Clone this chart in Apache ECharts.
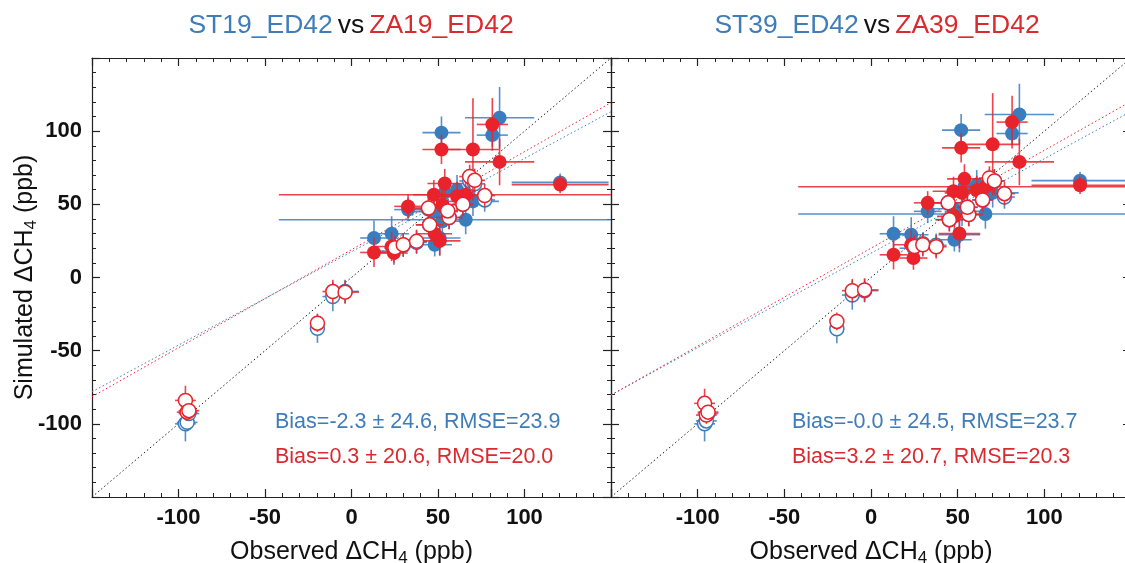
<!DOCTYPE html>
<html><head><meta charset="utf-8">
<script src="https://cdn.jsdelivr.net/npm/echarts@6/dist/echarts.min.js"></script>
<style>html,body{margin:0;padding:0;background:#fff}#c{width:1125px;height:563px}</style>
</head><body><div id="c"></div>
<script>
// ---- data ----
const axisRange = [-150, 150];
const tickLabels = [-100, -50, 0, 50, 100];
const panelTitles = [["ST19_ED42", "ZA19_ED42"], ["ST39_ED42", "ZA39_ED42"]];
const statsText = [
  ["Bias=-2.3 \u00b1 24.6, RMSE=23.9", "Bias=0.3 \u00b1 20.6, RMSE=20.0"],
  ["Bias=-0.0 \u00b1 24.5, RMSE=23.7", "Bias=3.2 \u00b1 20.7, RMSE=20.3"]
];
const obsX = [52.0, 70.2, 81.4, 85.6, 120.6, 53.9, 47.6, 66.0, 52.5, 32.7, 61.0, 48.1, 51.0, 13.0, 23.2, 24.5,
              -96, -95, -94, -19.7, -10.8, -3.7, 25.1, 29.9, 37.6, 45.2, 44.5, 56.4, 55.6, 64.4, 68.3, 71.2, 77.0];
const obsXErr = [11, 15, 9, 20, 28, 10, 12, 108, 10, 8, 10, 10, 12, 8, 10, 8,
                 6, 6, 6, 3, 6, 8, 6, 8, 6, 8, 8, 8, 6, 6, 6, 6, 6];
const isFilled = [1,1,1,1,1,1,1,1,1,1,1,1,1,1,1,1, 0,0,0,0,0,0,0,0,0,0,0,0,0,0,0,0,0];
const st19Y = [99, 52, 97.3, 109.2, 65, 58, 45, 39.5, 38.4, 46.4, 60, 22.4, 27, 27, 29.9, 18,
               -100, -99, -93, -34.7, -13, -9.5, 20, 22, 24, 36, 47, 41, 45, 50, 66, 64, 53];
const za19Y = [87.5, 87.5, 104.6, 79, 63.5, 64.2, 56.6, 56.6, 49.8, 48.6, 55.5, 29.9, 25, 17.1, 21.2, 16.7,
               -84, -92, -91, -31.2, -9.6, -10, 20.3, 22.4, 24.7, 36, 47.5, 41, 45.5, 50, 69, 66.4, 56];
const st39Y = [100.7, 57.8, 98.4, 111.4, 66.2, 62, 47, 43.4, 45.2, 45.2, 63.5, 25.8, 29.2, 29.9, 29.2, 20,
               -100, -98, -93, -35, -12, -9, 22, 23, 22, 39.5, 51, 43, 48, 53, 66, 66, 55];
const za39Y = [88.6, 91, 106.2, 79, 63, 67.4, 58.9, 62, 57.8, 51, 59.6, 41.8, 30, 15.5, 22.4, 13.3,
               -86, -94, -92, -30, -9, -8.5, 21.2, 22.4, 21, 39.5, 51, 43, 48, 53, 68, 66, 57.3];
const stYErr = [11, 10, 8, 21, 6, 10, 10, 10, 10, 8, 10, 8, 12, 12, 12, 8,
                12, 6, 6, 10, 10, 8, 8, 8, 8, 8, 8, 8, 8, 8, 8, 8, 8];
const zaYErr = [10, 35, 18, 16, 6, 10, 10, 10, 10, 8, 10, 8, 10, 10, 10, 8,
                10, 6, 6, 6, 8, 8, 8, 8, 8, 8, 8, 8, 8, 8, 8, 8, 8];
// linear fits [slope, intercept]
const fitST19 = [0.638, 17.6];
const fitZA19 = [0.670, 19.0];
const fitST39 = [0.646, 16.6];
const fitZA39 = [0.669, 20.0];

// ---- styles ----
const BLUE = '#3a7dbf', RED = '#e8232b';
const BLUE_T = '#3f7cb8', RED_T = '#d92a2f';
const FONT = 'Liberation Sans, Arial, sans-serif';

const chart = echarts.init(document.getElementById('c'));
const panels = [
  {models: [[st19Y, stYErr, fitST19, BLUE], [za19Y, zaYErr, fitZA19, RED]]},
  {models: [[st39Y, stYErr, fitST39, BLUE], [za39Y, zaYErr, fitZA39, RED]]}
];
const grids = [
  {left: 92, top: 58, width: 519, height: 439, outerBoundsMode: 'none', containLabel: false},
  {left: 611, top: 58, width: 520, height: 439, outerBoundsMode: 'none', containLabel: false}
];
const clampV = v => Math.max(axisRange[0], Math.min(axisRange[1], v));

function mainAxis(gi, pos, showLabels, nameText, nameGap) {
  return {
    type: 'value', gridIndex: gi, position: pos, min: axisRange[0], max: axisRange[1], interval: 50,
    splitLine: {show: false},
    axisLine: {show: true, onZero: false, lineStyle: {color: '#222', width: 1.2}},
    axisTick: {show: true, inside: true, length: 8, lineStyle: {color: '#222', width: 1.2}},
    minorTick: {show: true, splitNumber: 5, length: 4, lineStyle: {color: '#222', width: 1}},
    axisLabel: {show: showLabels, fontFamily: FONT, fontWeight: 'bold', fontSize: 22, color: '#111', margin: 10,
      formatter: v => tickLabels.includes(v) ? String(v) : ''},
    name: nameText || '', nameLocation: 'middle', nameGap: nameGap || 0, nameMoveOverlap: false,
    nameTextStyle: {fontFamily: FONT, fontSize: 25, color: '#111',
      rich: {s: {fontFamily: FONT, fontSize: 17, color: '#111', padding: [13, 0, 0, 0]}}}
  };
}
const xAxes = [], yAxes = [];
const xName = 'Observed \u0394CH{s|4} (ppb)';
const yName = 'Simulated \u0394CH{s|4} (ppb)';
[0, 1].forEach(gi => {
  xAxes.push(mainAxis(gi, 'bottom', true, xName, 40));
  xAxes.push(mainAxis(gi, 'top', false));
  yAxes.push(mainAxis(gi, 'left', gi === 0, gi === 0 ? yName : '', 52));
  yAxes.push(mainAxis(gi, 'right', false));
});

const series = [];
panels.forEach((p, gi) => {
  const xi = gi * 2, yi = gi * 2;
  // 1:1 line
  series.push({type: 'line', xAxisIndex: xi, yAxisIndex: yi, silent: true, symbol: 'none', z: 1,
    data: [[axisRange[0], axisRange[0]], [axisRange[1], axisRange[1]]],
    lineStyle: {color: '#222', width: 1, type: [1.5, 2.5]}});
  // fit lines
  p.models.forEach(([ys, ye, fit, col]) => {
    series.push({type: 'line', xAxisIndex: xi, yAxisIndex: yi, silent: true, symbol: 'none', z: 1,
      data: axisRange.map(x => [x, fit[0] * x + fit[1]]),
      lineStyle: {color: col, width: 1, type: [1.5, 2.5]}});
  });
  p.models.forEach(([ys, ye, fit, col], mi) => {
    // error bars
    series.push({type: 'custom', xAxisIndex: xi, yAxisIndex: yi, silent: true, clip: true, z: 2 + mi * 3,
      data: obsX.map((x, i) => [x, ys[i], obsXErr[i], ye[i]]),
      encode: {x: 0, y: 1},
      renderItem: (params, api) => {
        const x = api.value(0), y = api.value(1), xe = api.value(2), yev = api.value(3);
        const a = api.coord([clampV(x - xe), y]), b = api.coord([clampV(x + xe), y]);
        const c = api.coord([x, clampV(y - yev)]), d = api.coord([x, clampV(y + yev)]);
        const st = {stroke: col, lineWidth: 1.6, opacity: 0.85};
        return {type: 'group', children: [
          {type: 'line', shape: {x1: a[0], y1: a[1], x2: b[0], y2: b[1]}, style: st},
          {type: 'line', shape: {x1: c[0], y1: c[1], x2: d[0], y2: d[1]}, style: st}
        ]};
      }});
    // filled points
    series.push({type: 'scatter', xAxisIndex: xi, yAxisIndex: yi, z: 3 + mi * 3, symbolSize: 14,
      data: obsX.map((x, i) => [x, ys[i]]).filter((d, i) => isFilled[i]),
      itemStyle: {color: col, opacity: 1}});
    // open points
    series.push({type: 'scatter', xAxisIndex: xi, yAxisIndex: yi, z: 4 + mi * 3, symbolSize: 14,
      data: obsX.map((x, i) => [x, ys[i]]).filter((d, i) => !isFilled[i]),
      itemStyle: {color: '#fff', borderColor: col, borderWidth: 1.5, opacity: 1}});
  });
});

const titleCenters = [346, 872];
const titles = panelTitles.map((t, i) => ({
  text: '{b|' + t[0] + '} {k|vs} {r|' + t[1] + '}',
  left: titleCenters[i], top: 7, textAlign: 'center',
  textStyle: {fontWeight: 'normal', rich: {
    b: {fontFamily: FONT, fontSize: 26.5, fontWeight: 'normal', color: BLUE_T},
    k: {fontFamily: FONT, fontSize: 26.5, fontWeight: 'normal', color: '#111'},
    r: {fontFamily: FONT, fontSize: 26.5, fontWeight: 'normal', color: RED_T}}}
}));

const statX = [275, 792];
const graphics = [];
statsText.forEach((pair, i) => {
  graphics.push({type: 'text', left: statX[i], top: 411, z: 50,
    style: {text: pair[0], fill: BLUE_T, font: '21.5px ' + FONT}});
  graphics.push({type: 'text', left: statX[i], top: 446, z: 50,
    style: {text: pair[1], fill: RED_T, font: '21.5px ' + FONT}});
});

chart.setOption({
  backgroundColor: '#fff',
  animation: false,
  title: titles,
  grid: grids,
  xAxis: xAxes,
  yAxis: yAxes,
  series: series,
  graphic: graphics
});
</script></body></html>
